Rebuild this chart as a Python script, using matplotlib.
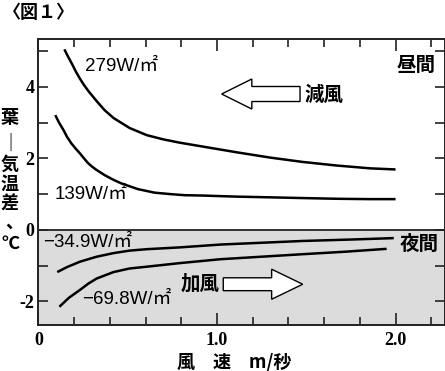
import numpy as np
import matplotlib
matplotlib.use("Agg")
import matplotlib.pyplot as plt
from matplotlib.ticker import MultipleLocator, FixedLocator, FixedFormatter
from matplotlib.patches import FancyArrow

# wind speed (m/s) vs leaf-air temperature difference (C)
day_279_x = [0.145, 0.165, 0.19, 0.21, 0.232, 0.255, 0.28, 0.326, 0.37, 0.42, 0.51,
             0.606, 0.70, 0.79, 0.92, 1.11, 1.30, 1.48, 1.67, 1.86, 2.0]
day_279_y = [5.05, 4.85, 4.62, 4.42, 4.23, 4.05, 3.88, 3.60, 3.35, 3.13, 2.85,
             2.65, 2.53, 2.44, 2.33, 2.17, 2.02, 1.90, 1.80, 1.72, 1.69]

day_139_x = [0.094, 0.115, 0.139, 0.16, 0.184, 0.207, 0.232, 0.255, 0.277, 0.30,
             0.324, 0.371, 0.42, 0.464, 0.557, 0.651, 0.74, 0.819, 0.92, 1.11,
             1.30, 1.48, 1.67, 1.86, 2.0]
day_139_y = [3.21, 3.00, 2.80, 2.60, 2.42, 2.28, 2.14, 2.00, 1.87, 1.77,
             1.68, 1.53, 1.40, 1.30, 1.14, 1.04, 1.00, 0.97, 0.96, 0.93,
             0.91, 0.89, 0.87, 0.86, 0.86]

night_349_x = [0.105, 0.16, 0.232, 0.326, 0.42, 0.51, 0.606, 0.79, 1.02, 1.25, 1.48, 1.75, 1.99]
night_349_y = [-1.18, -1.04, -0.89, -0.75, -0.65, -0.58, -0.54, -0.49, -0.41, -0.36, -0.31, -0.27, -0.23]

night_698_x = [0.117, 0.17, 0.232, 0.28, 0.326, 0.42, 0.51, 0.606, 0.79, 1.02, 1.25, 1.48, 1.72, 1.95]
night_698_y = [-2.15, -1.90, -1.68, -1.50, -1.36, -1.18, -1.08, -1.03, -0.93, -0.82, -0.75, -0.68, -0.61, -0.53]

x_ticks = [0, 1, 2]
x_ticklabels = ["0", "1.0", "2.0"]
y_ticks = [-2, 0, 2, 4]
y_ticklabels = ["-2", "0", "2", "4"]

jp = ["Noto Sans CJK JP", "DejaVu Sans"]
lab = ["Liberation Sans", "Noto Sans CJK JP"]

fig = plt.figure(figsize=(4.45, 3.71), dpi=100)
ax = fig.add_axes([0.0865, 0.124, 0.9135, 0.772])

xmin, xmax = 0, 2.277
ymin, ymax = -2.66, 5.35
ax.set_xlim(xmin, xmax)
ax.set_ylim(ymin, ymax)

# gray band for night
ax.axhspan(ymin, 0, color="#dcdcdc", zorder=0)
ax.axhline(0, color="#222222", lw=1.3, zorder=1)

lw = 1.8
for xs, ys in [(day_279_x, day_279_y), (day_139_x, day_139_y),
               (night_349_x, night_349_y), (night_698_x, night_698_y)]:
    ax.plot(xs, ys, color="black", lw=lw, solid_capstyle="butt",
            solid_joinstyle="round", zorder=3)

# curve labels
ax.text(0.26, 4.56, "279W/㎡", family=lab, fontsize=13.5, va="center", ha="left")
ax.text(0.09, 0.99, "139W/㎡", family=lab, fontsize=13.5, va="center", ha="left")
ax.text(0.024, -0.35, "−34.9W/㎡", family=lab, fontsize=13.5, va="center", ha="left")
ax.text(0.242, -1.96, "−69.8W/㎡", family=lab, fontsize=13.5, va="center", ha="left")

ax.text(2.115, 4.61, "昼間", family=jp, fontsize=14, weight="bold", va="center", ha="center")
ax.text(2.13, -0.42, "夜間", family=jp, fontsize=14, weight="bold", va="center", ha="center")

# arrows
ax.add_patch(FancyArrow(1.465, 3.80, -(1.465 - 1.026), 0, width=0.42, head_width=0.84,
                        head_length=1.195 - 1.026, length_includes_head=True,
                        facecolor="white", edgecolor="black", lw=1.0, zorder=4))
ax.text(1.49, 3.77, "減風", family=jp, fontsize=14, weight="bold", va="center", ha="left")

ax.add_patch(FancyArrow(1.035, -1.52, 1.48 - 1.035, 0, width=0.36, head_width=0.84,
                        head_length=1.48 - 1.306, length_includes_head=True,
                        facecolor="white", edgecolor="black", lw=1.0, zorder=4))
ax.text(1.017, -1.52, "加風", family=jp, fontsize=14, weight="bold", va="center", ha="right")

# ticks
ax.xaxis.set_major_locator(FixedLocator(x_ticks))
ax.xaxis.set_major_formatter(FixedFormatter(x_ticklabels))
ax.xaxis.set_minor_locator(MultipleLocator(0.2))
ax.yaxis.set_major_locator(FixedLocator(y_ticks))
ax.yaxis.set_major_formatter(FixedFormatter(y_ticklabels))
ax.yaxis.set_minor_locator(MultipleLocator(1))
ax.tick_params(axis="both", which="both", direction="in", top=True, right=True,
               width=1.2, color="#222222")
ax.tick_params(axis="x", which="major", length=8.5, pad=5)
ax.tick_params(axis="x", which="minor", length=6)
ax.tick_params(axis="y", which="both", length=7, pad=3)
for t in ax.get_xticklabels() + ax.get_yticklabels():
    t.set_family(["Liberation Serif", "DejaVu Serif"])
    t.set_fontsize(13)
    t.set_weight("bold")

for s in ax.spines.values():
    s.set_linewidth(1.4)
    s.set_color("#222222")

# title
fig.text(3 / 445, 1 - 12 / 371, "〈図１〉", family=jp, fontsize=13, weight="bold",
         va="center", ha="left")

# vertical y label, one character per line
ylabel_chars = ["葉", "｜", "気", "温", "差", "、", "℃"]
ylabel_px = [10, 10, 10, 10, 10, 14, 10]
ylabel_py = [117, 143, 164, 184, 204, 222, 243]
for ch, px, py in zip(ylabel_chars, ylabel_px, ylabel_py):
    fig.text(px / 445, 1 - py / 371, ch, family=jp, fontsize=13, weight="bold",
             va="center", ha="center")

# x label
fig.text(234 / 445, 1 - 362 / 371, "風　速　m/秒", family=jp, fontsize=13, weight="bold",
         va="center", ha="center")

fig.savefig("out.png", dpi=100)
